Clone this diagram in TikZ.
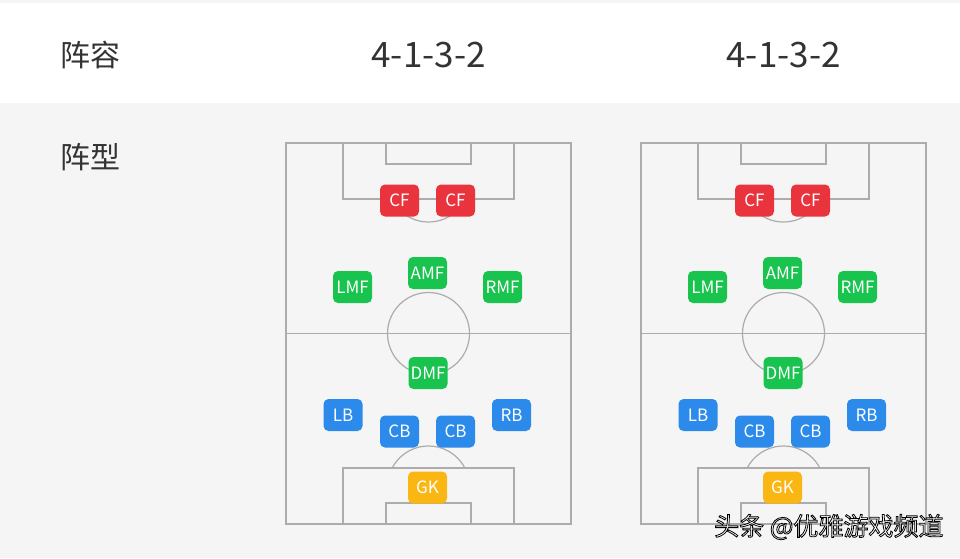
\documentclass[tikz,border=0pt]{standalone}
\usepackage{fontspec}
\setmainfont{Noto Sans CJK SC}
\newcommand\outlinetext[1]{\special{pdf:code q}\textcolor{white}{\special{pdf:code 2 Tr 0.8 w 0 G}#1}\special{pdf:code Q}}
\definecolor{pagegray}{RGB}{245, 245, 245}
\definecolor{linegray}{RGB}{172, 172, 172}
\definecolor{textdark}{RGB}{51, 51, 51}
\definecolor{fwdred}{RGB}{233, 52, 62}
\definecolor{midgreen}{RGB}{24, 195, 78}
\definecolor{defblue}{RGB}{44, 139, 234}
\definecolor{gkyellow}{RGB}{250, 182, 18}
\usetikzlibrary{positioning}

\tikzset{
  pitchline/.style={draw=linegray, line width=1.2pt},
  player/.style={rounded corners=5pt, minimum width=39pt, minimum height=32pt, inner sep=0pt,
    text=white, font=\fontsize{17}{17}\selectfont},
  fwd/.style={player, fill=fwdred},
  mid/.style={player, fill=midgreen},
  def/.style={player, fill=defblue},
  keeper/.style={player, fill=gkyellow},
  rowlabel/.style={anchor=west, text=textdark, font=\fontsize{30}{30}\selectfont},
  shapelabel/.style={text=textdark, font=\fontsize{35}{35}\selectfont}
}

\begin{document}
\begin{tikzpicture}[x=1pt, y=-1pt]
  \useasboundingbox (0,0) rectangle (960,558);

  % background bands
  \fill[pagegray] (0,0) rectangle (960,3);
  \fill[white] (0,3) rectangle (960,103);
  \fill[pagegray] (0,103) rectangle (960,558);

  % header row
  \node[rowlabel] (lineup) at (57,55) {阵容};
  \node[shapelabel] (shapeA) at (428.5,55) {4-1-3-2};
  \node[shapelabel] (shapeB) at (783.5,55) {4-1-3-2};
  \node[rowlabel] (formation) at (57,157) {阵型};

  % left pitch
  \begin{scope}
    \draw[pitchline] (286,143) rectangle (571,524);
    \draw[pitchline] (286,333.5) -- (571,333.5);
    \draw[pitchline] (428.5,333.5) circle[radius=41pt];
    \draw[pitchline] (343,143) rectangle (514,199);
    \draw[pitchline] (386,143) rectangle (471,164);
    \draw[pitchline] (343,468) rectangle (514,524);
    \draw[pitchline] (386,503) rectangle (471,524);
    \begin{scope}
      \clip (300,199) rectangle (560,240);
      \draw[pitchline] (428.5,181) circle[radius=41pt];
    \end{scope}
    \begin{scope}
      \clip (300,420) rectangle (560,468);
      \draw[pitchline] (428.5,487) circle[radius=41pt];
    \end{scope}

    \node[fwd] (cfA1) at (399.5,200.5) {CF};
    \node[fwd] (cfA2) at (455.5,200.5) {CF};
    \node[mid] (amfA) at (427.5,273) {AMF};
    \node[mid] (lmfA) at (352.5,287) {LMF};
    \node[mid] (rmfA) at (502.5,287) {RMF};
    \node[mid] (dmfA) at (428,373) {DMF};
    \node[def] (lbA) at (343,415) {LB};
    \node[def] (cbA1) at (399.5,431.5) {CB};
    \node[def] (cbA2) at (455.5,431.5) {CB};
    \node[def] (rbA) at (511.5,415) {RB};
    \node[keeper] (gkA) at (427.5,487.5) {GK};
  \end{scope}

  % right pitch
  \begin{scope}[xshift=355pt]
    \draw[pitchline] (286,143) rectangle (571,524);
    \draw[pitchline] (286,333.5) -- (571,333.5);
    \draw[pitchline] (428.5,333.5) circle[radius=41pt];
    \draw[pitchline] (343,143) rectangle (514,199);
    \draw[pitchline] (386,143) rectangle (471,164);
    \draw[pitchline] (343,468) rectangle (514,524);
    \draw[pitchline] (386,503) rectangle (471,524);
    \begin{scope}
      \clip (300,199) rectangle (560,240);
      \draw[pitchline] (428.5,181) circle[radius=41pt];
    \end{scope}
    \begin{scope}
      \clip (300,420) rectangle (560,468);
      \draw[pitchline] (428.5,487) circle[radius=41pt];
    \end{scope}

    \node[fwd] (cfB1) at (399.5,200.5) {CF};
    \node[fwd] (cfB2) at (455.5,200.5) {CF};
    \node[mid] (amfB) at (427.5,273) {AMF};
    \node[mid] (lmfB) at (352.5,287) {LMF};
    \node[mid] (rmfB) at (502.5,287) {RMF};
    \node[mid] (dmfB) at (428,373) {DMF};
    \node[def] (lbB) at (343,415) {LB};
    \node[def] (cbB1) at (399.5,431.5) {CB};
    \node[def] (cbB2) at (455.5,431.5) {CB};
    \node[def] (rbB) at (511.5,415) {RB};
    \node[keeper] (gkB) at (427.5,487.5) {GK};
  \end{scope}

  % watermark
  \node[anchor=east, font=\fontsize{25}{25}\selectfont] (mark) at (947,527)
    {\outlinetext{头条 @优雅游戏频道}};
\end{tikzpicture}
\end{document}
